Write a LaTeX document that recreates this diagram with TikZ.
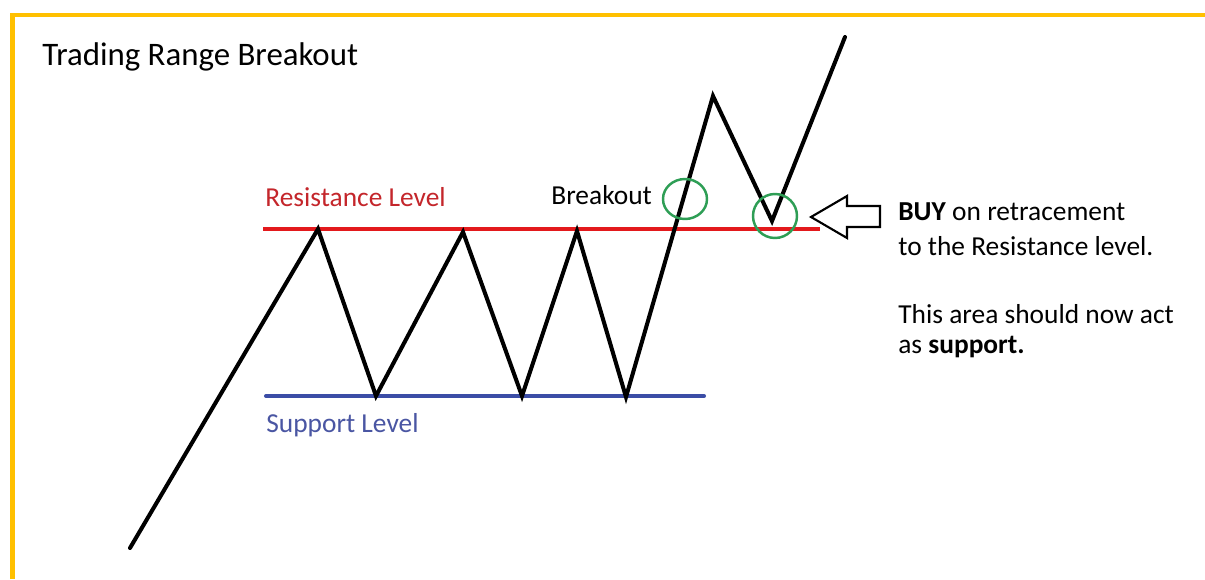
\documentclass[tikz,border=0pt]{standalone}
\usepackage{fontspec}
\setmainfont{Carlito}
\definecolor{frameyellow}{HTML}{FFC000}
\definecolor{reslevel}{HTML}{E3191C}
\definecolor{reslabel}{HTML}{C4262B}
\definecolor{suplevel}{HTML}{3B4DA6}
\definecolor{suplabel}{HTML}{4A56A3}
\definecolor{ringgreen}{HTML}{2E9E55}
\tikzset{
	label/.style={anchor=west,inner sep=0pt,font=\fontsize{15.6}{18}\selectfont},
	price/.style={line width=2.3pt,line join=miter,line cap=round},
	ring/.style={ringgreen,line width=1.4pt},
}
\begin{document}
\begin{tikzpicture}[x=0.02cm,y=-0.02cm]
	\useasboundingbox (0,0) rectangle (1205,579);
	\fill[white] (0,0) rectangle (1205,579);
	\draw[frameyellow,line width=2.6pt] (12.5,579) -- (12.5,15) -- (1205,15);
	\node[label,font=\fontsize{18.7}{22}\selectfont] (title) at (42,57) {Trading Range Breakout};
	% levels
	\draw[reslevel,line width=2.3pt] (263,229) -- (820,229);
	\draw[suplevel,line width=2.3pt,line cap=round] (266,396) -- (704,396);
	\node[label,reslabel] (res) at (265,197) {Resistance Level};
	\node[label,suplabel] (sup) at (266,425) {Support Level};
	\node[label] (brk) at (551,195) {Breakout};
	% price path
	\coordinate (p0) at (130,548);
	\coordinate (p1) at (318,229);
	\coordinate (p2) at (376,396);
	\coordinate (p3) at (463,232);
	\coordinate (p4) at (522,396);
	\coordinate (p5) at (577,231);
	\coordinate (p6) at (626,397);
	\coordinate (p7) at (713,96);
	\coordinate (p8) at (772,221);
	\coordinate (p9) at (845,37);
	\draw[price] (p0) -- (p1) -- (p2) -- (p3) -- (p4) -- (p5) -- (p6) -- (p7) -- (p8) -- (p9);
	\draw[ring] (685,199) ellipse (22 and 20);
	\draw[ring] (775,216) circle (22);
	% buy arrow
	\coordinate (tip) at (811,217);
	\draw[line width=1.2pt,line join=miter,fill=white] (tip) -- ++(36,-21) -- ++(0,10) -- ++(33,0)
		-- ++(0,21) -- ++(-33,0) -- ++(0,11) -- cycle;
	\node[label] (note1) at (898,212) {\textbf{BUY} on retracement};
	\node[label] (note2) at (898,246) {to the Resistance level.};
	\node[label] (note3) at (898,314) {This area should now act};
	\node[label] (note4) at (898,347) {as \textbf{support.}};
\end{tikzpicture}
\end{document}
